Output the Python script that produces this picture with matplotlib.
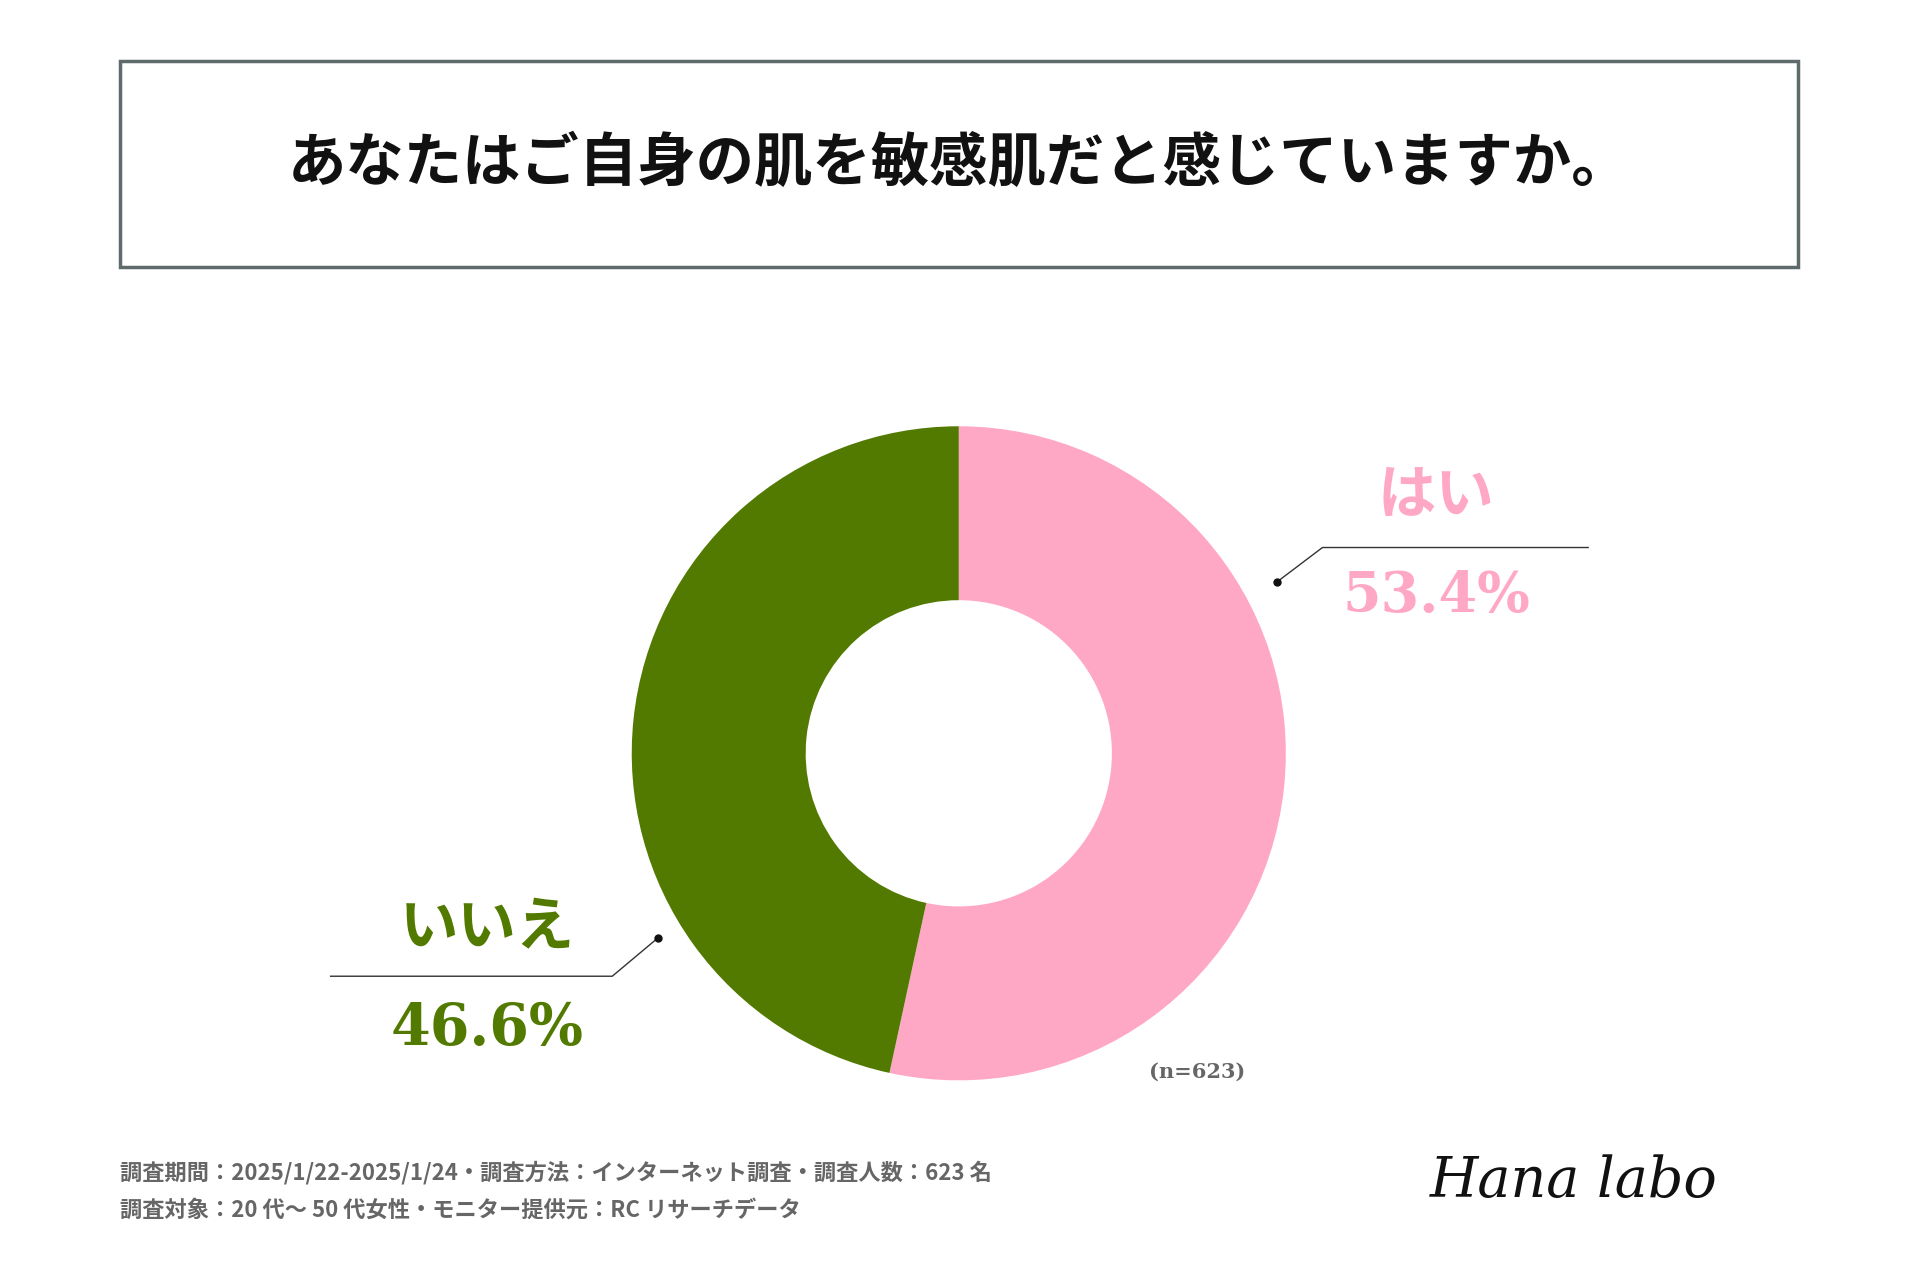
import matplotlib
matplotlib.use("Agg")
import matplotlib.pyplot as plt
from matplotlib.lines import Line2D
from matplotlib.patches import Rectangle

title = "あなたはご自身の肌を敏感肌だと感じていますか。"
categories = ["はい", "いいえ"]
values = [53.4, 46.6]
colors = ["#FFA8C5", "#527A00"]
n_label = "(n=623)"
footer1 = "調査期間：2025/1/22-2025/1/24・調査方法：インターネット調査・調査人数：623 名"
footer2 = "調査対象：20 代〜 50 代女性・モニター提供元：RC リサーチデータ"

JP = "Noto Sans CJK JP"
W, H = 1568, 1045
def fx(x): return x / W
def fy(y): return 1 - y / H

fig = plt.figure(figsize=(19.2, 12.8), dpi=100)
fig.patch.set_facecolor("white")

fig.patches.append(Rectangle((fx(98), fy(218)), fx(1468) - fx(98), fy(50) - fy(218),
                             transform=fig.transFigure, fill=False, ec="#5F6B6B", lw=2.5))
fig.text(fx(783), fy(134), title, fontfamily=JP, fontweight="bold", fontsize=42,
         ha="center", va="center", color="#111111")

cx, cy, r = fx(783), fy(615), 267 / H
hh = 2 * r
ww = hh * 1280 / 1920
ax = fig.add_axes([cx - ww / 2, cy - r, ww, hh])
ax.pie(values, colors=colors, startangle=90, counterclock=False, radius=1,
       wedgeprops=dict(width=1 - 125 / 267, linewidth=0))
ax.set_xlim(-1, 1); ax.set_ylim(-1, 1); ax.set_aspect("equal"); ax.axis("off")

def leader(pts, col="#333333"):
    xs = [fx(p[0]) for p in pts]; ys = [fy(p[1]) for p in pts]
    fig.lines.append(Line2D(xs, ys, transform=fig.transFigure, color=col, lw=1))
    fig.lines.append(Line2D([xs[0]], [ys[0]], transform=fig.transFigure, marker="o",
                            ms=5, color="#111111", lw=0))

leader([(1043, 475), (1080, 447), (1297, 447)])
leader([(537, 766), (500, 797), (270, 797)])

fig.text(fx(1173), fy(405), categories[0], fontfamily=JP, fontweight="bold", fontsize=42,
         color=colors[0], ha="center", va="center")
fig.text(fx(1173), fy(487), f"{values[0]}%", fontfamily="DejaVu Serif", fontweight="bold",
         fontsize=40, color=colors[0], ha="center", va="center")
fig.text(fx(398), fy(758), categories[1], fontfamily=JP, fontweight="bold", fontsize=42,
         color=colors[1], ha="center", va="center")
fig.text(fx(398), fy(840), f"{values[1]}%", fontfamily="DejaVu Serif", fontweight="bold",
         fontsize=41, color=colors[1], ha="center", va="center")

fig.text(fx(978), fy(875), n_label, fontfamily="DejaVu Serif", fontweight="bold",
         fontsize=15, color="#666666", ha="center", va="center")
fig.text(fx(98), fy(957), footer1, fontfamily=JP, fontweight="bold", fontsize=16,
         color="#666666", ha="left", va="center")
fig.text(fx(98), fy(988), footer2, fontfamily=JP, fontweight="bold", fontsize=16,
         color="#666666", ha="left", va="center")
fig.text(fx(1285), fy(965), "Hana labo", fontfamily="DejaVu Serif", fontstyle="italic",
         fontweight="light", fontsize=40, color="#111111", ha="center", va="center")

fig.savefig("out.png", dpi=100, facecolor="white")
